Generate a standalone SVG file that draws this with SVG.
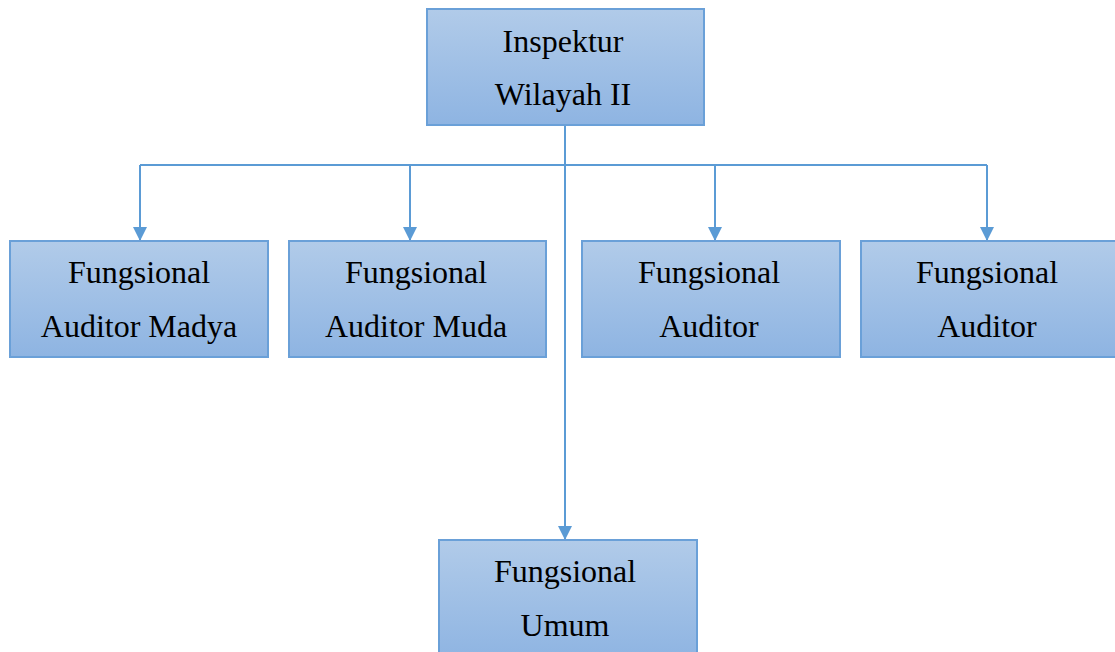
<svg xmlns="http://www.w3.org/2000/svg" width="1115" height="652" viewBox="0 0 1115 652">
<defs>
<linearGradient id="g" x1="0" y1="0" x2="0" y2="1">
<stop offset="0" stop-color="#b1cbe9"/>
<stop offset="1" stop-color="#8eb4e2"/>
</linearGradient>
<marker id="arr" viewBox="0 0 14 14" refX="7" refY="14" markerWidth="14" markerHeight="14" markerUnits="userSpaceOnUse" orient="auto-start-reverse">
<path d="M0,0 L14,0 L7,14 Z" fill="#5b9bd5" transform="rotate(-90 7 7)"/>
</marker>
<marker id="ah" viewBox="0 0 14 14" refX="14" refY="7" markerWidth="14" markerHeight="14" markerUnits="userSpaceOnUse" orient="auto">
<path d="M0,0 L14,7 L0,14 Z" fill="#5b9bd5"/>
</marker>
</defs>
<style>
.box{fill:url(#g);stroke:#6aa0d8;stroke-width:2}
.t{font-family:"Liberation Serif","Times New Roman",serif;font-size:32px;fill:#000;text-anchor:middle}
.c{fill:none;stroke:#5b9bd5;stroke-width:2}
</style>
<rect width="1115" height="652" fill="#fff"/>
<g id="connectors">
<path class="c" d="M565,125 V165"/>
<path class="c" d="M140,165 H987"/>
<path class="c" d="M140,165 V241" marker-end="url(#ah)"/>
<path class="c" d="M410,165 V241" marker-end="url(#ah)"/>
<path class="c" d="M715,165 V241" marker-end="url(#ah)"/>
<path class="c" d="M987,165 V241" marker-end="url(#ah)"/>
<path class="c" d="M565,165 V540" marker-end="url(#ah)"/>
</g>
<g id="n-inspektur">
<rect class="box" x="427" y="9" width="277" height="116"/>
<text class="t" x="563" y="52">Inspektur</text>
<text class="t" x="563" y="105">Wilayah II</text>
</g>
<g id="n-madya">
<rect class="box" x="10" y="241" width="258" height="116"/>
<text class="t" x="139" y="283">Fungsional</text>
<text class="t" x="139" y="337">Auditor Madya</text>
</g>
<g id="n-muda">
<rect class="box" x="289" y="241" width="257" height="116"/>
<text class="t" x="416" y="283">Fungsional</text>
<text class="t" x="416" y="337">Auditor Muda</text>
</g>
<g id="n-auditor1">
<rect class="box" x="582" y="241" width="258" height="116"/>
<text class="t" x="709" y="283">Fungsional</text>
<text class="t" x="709" y="337">Auditor</text>
</g>
<g id="n-auditor2">
<rect class="box" x="861" y="241" width="258" height="116"/>
<text class="t" x="987" y="283">Fungsional</text>
<text class="t" x="987" y="337">Auditor</text>
</g>
<g id="n-umum">
<rect class="box" x="439" y="540" width="258" height="120"/>
<text class="t" x="565" y="582">Fungsional</text>
<text class="t" x="565" y="636">Umum</text>
</g>
</svg>
